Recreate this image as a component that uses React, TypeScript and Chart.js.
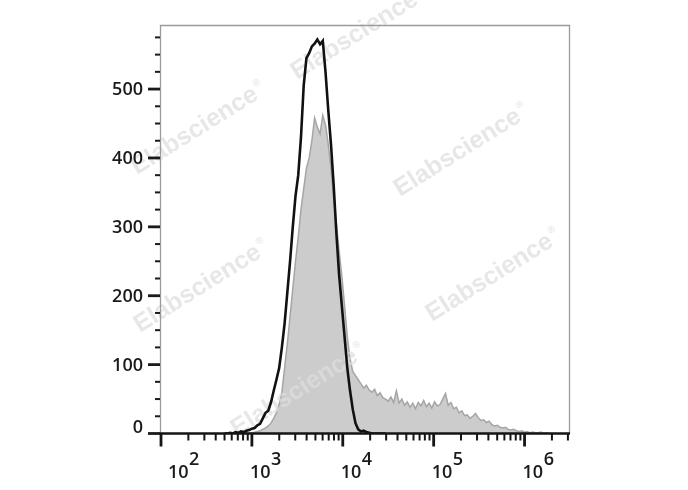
import { useEffect, useRef } from "react";
import { Chart, registerables } from "chart.js";

Chart.register(...registerables);

// Histogram bins: evenly spaced in log10(intensity)
const binStartLog = 2.7;
const binStepLog = 0.03;

// Grey filled histogram (control)
const controlCounts = [
  0, 0, 0, 0, 0, 0, 0, 0, 1, 0,
  1, 2, 3, 4, 6, 8, 11, 15, 22, 30,
  42, 60, 95, 130, 170, 210, 250, 285, 325, 355,
  385, 400, 425, 458, 445, 435, 462, 448, 420, 385,
  340, 305, 265, 228, 185, 140, 108, 90, 84, 78,
  72, 66, 70, 63, 60, 64, 55, 59, 52, 50,
  47, 53, 45, 62, 44, 50, 41, 46, 38, 44,
  36, 45, 40, 48, 39, 44, 37, 46, 40, 42,
  50, 58, 41, 45, 36, 38, 30, 33, 26, 27,
  22, 25, 29, 23, 19, 20, 16, 18, 13, 11,
  12, 9, 8, 9, 6, 5, 6, 4, 3, 4,
  2, 3, 1, 2, 1, 1, 2, 0, 1, 0,
  0,
];

// Black outline histogram (stained)
const stainedCounts = [
  0, 0, 1, 0, 2, 1, 3, 2, 4, 5,
  7, 8, 12, 14, 22, 30, 33, 45, 62, 78,
  95, 125, 160, 205, 250, 300, 345, 375, 430, 505,
  545, 552, 562, 566, 572, 565, 570, 525, 470, 420,
  360, 290, 230, 185, 140, 95, 62, 35, 15, 6,
  3, 4, 2, 1, 0, 0, 0, 0, 0, 0,
];

const xMinValue = 100;
const xMaxValue = 3162278;
const yMaxValue = 593;
const xMajorExponents = [2, 3, 4, 5, 6];
const xMinorMultipliers = [2, 3, 4, 5, 6, 7, 8, 9];
const yTickValues = [0, 25, 50, 75, 100, 125, 150, 175, 200, 225, 250, 275, 300, 325, 350, 375, 400, 425, 450, 475, 500, 525, 550, 575];
const yLabelValues = [0, 100, 200, 300, 400, 500];
const watermarkText = "Elabscience";

const toPoints = (counts: number[]) =>
  counts.map((c, i) => ({ x: Math.pow(10, binStartLog + i * binStepLog), y: c }));

const FONT = '"Open Sans", "Liberation Sans", Arial, sans-serif';
const WM_FONT = '"Liberation Sans", Arial, sans-serif';

const watermarkPlugin = {
  id: "watermark",
  afterDatasetDraw(chart: any, args: any) {
    if (args.index !== 0) return;
    const ctx = chart.ctx;
    const spots = [
      [137, 175],
      [297, 80],
      [400, 197],
      [140, 333],
      [432, 322],
      [237, 437],
    ];
    ctx.save();
    ctx.fillStyle = "rgba(222,222,222,0.72)";
    for (const [sx, sy] of spots) {
      ctx.save();
      ctx.translate(sx, sy);
      ctx.rotate((-32 * Math.PI) / 180);
      ctx.font = `bold 25px ${WM_FONT}`;
      ctx.textAlign = "left";
      ctx.textBaseline = "alphabetic";
      ctx.fillText(watermarkText, 0, 0);
      const w = ctx.measureText(watermarkText).width;
      ctx.font = `bold 10px ${WM_FONT}`;
      ctx.fillText("\u00AE", w + 2, -12);
      ctx.restore();
    }
    ctx.restore();
  },
};

const axesPlugin = {
  id: "flowAxes",
  afterDraw(chart: any) {
    const ctx = chart.ctx;
    const xs = chart.scales.x;
    const ys = chart.scales.y;
    const { left, right, top, bottom } = chart.chartArea;
    ctx.save();

    // frame (grey)
    ctx.strokeStyle = "#9a9a9a";
    ctx.lineWidth = 1.3;
    ctx.beginPath();
    ctx.moveTo(left - 0.5, bottom);
    ctx.lineTo(left - 0.5, top + 0.5);
    ctx.lineTo(right - 0.5, top + 0.5);
    ctx.lineTo(right - 0.5, bottom);
    ctx.stroke();

    // x axis line
    ctx.strokeStyle = "#151515";
    ctx.lineWidth = 2.6;
    ctx.beginPath();
    ctx.moveTo(left - 1.5, bottom);
    ctx.lineTo(right, bottom);
    ctx.stroke();

    // x ticks
    for (const e of xMajorExponents) {
      const px = xs.getPixelForValue(Math.pow(10, e));
      ctx.lineWidth = 2.8;
      ctx.beginPath();
      ctx.moveTo(px, bottom);
      ctx.lineTo(px, bottom + 13);
      ctx.stroke();
      for (const m of xMinorMultipliers) {
        const v = m * Math.pow(10, e);
        if (v > xMaxValue) continue;
        const mx = xs.getPixelForValue(v);
        ctx.lineWidth = 2;
        ctx.beginPath();
        ctx.moveTo(mx, bottom);
        ctx.lineTo(mx, bottom + 7);
        ctx.stroke();
      }
    }

    // y ticks
    for (const v of yTickValues) {
      const py = ys.getPixelForValue(v);
      const major = yLabelValues.includes(v);
      ctx.lineWidth = major ? 2.8 : 2;
      ctx.strokeStyle = "#1a1a1a";
      ctx.beginPath();
      ctx.moveTo(left - (major ? 13 : 6), py);
      ctx.lineTo(left - 1, py);
      ctx.stroke();
    }

    // y labels
    ctx.fillStyle = "#1a1a1a";
    ctx.font = `600 18px ${FONT}`;
    ctx.textAlign = "right";
    ctx.textBaseline = "middle";
    for (const v of yLabelValues) {
      const py = ys.getPixelForValue(v);
      ctx.fillText(String(v), left - 18, v === 0 ? py - 6 : py + 1);
    }

    // x labels 10^k
    ctx.textAlign = "left";
    ctx.textBaseline = "alphabetic";
    xMajorExponents.forEach((e, i) => {
      const px = xs.getPixelForValue(Math.pow(10, e));
      const lx = i === 0 ? px + 7 : px - 2;
      ctx.font = `600 18px ${FONT}`;
      ctx.fillText("10", lx, bottom + 44.5);
      const w = ctx.measureText("10").width;
      ctx.fillText(String(e), lx + w + 0.5, bottom + 31);
    });

    ctx.restore();
  },
};

export default function App() {
  const canvasRef = useRef<HTMLCanvasElement | null>(null);

  useEffect(() => {
    const canvas = canvasRef.current;
    if (!canvas) return;
    const chart = new Chart(canvas, {
      type: "line",
      data: {
        datasets: [
          {
            label: "Control",
            data: toPoints(controlCounts),
            borderColor: "rgb(165,165,165)",
            backgroundColor: "rgb(204,204,204)",
            borderWidth: 1.5,
            fill: "origin",
            pointRadius: 0,
            tension: 0,
            order: 2,
          },
          {
            label: "Stained",
            data: toPoints(stainedCounts),
            borderColor: "#111111",
            backgroundColor: "rgba(0,0,0,0)",
            borderWidth: 2.6,
            fill: false,
            pointRadius: 0,
            tension: 0,
            order: 1,
          },
        ],
      },
      options: {
        animation: false,
        responsive: false,
        maintainAspectRatio: false,
        layout: { padding: { left: 161, right: 118, top: 25, bottom: 56.5 } },
        plugins: {
          legend: { display: false },
          tooltip: { enabled: false },
        },
        scales: {
          x: { type: "logarithmic", min: xMinValue, max: xMaxValue, display: false },
          y: { type: "linear", min: 0, max: yMaxValue, display: false },
        },
      },
      plugins: [watermarkPlugin, axesPlugin],
    });
    return () => chart.destroy();
  }, []);

  return (
    <div style={{ position: "fixed", left: 0, top: 0, width: 688, height: 490, background: "#fff" }}>
      <canvas ref={canvasRef} width={688} height={490} style={{ display: "block" }} />
    </div>
  );
}
